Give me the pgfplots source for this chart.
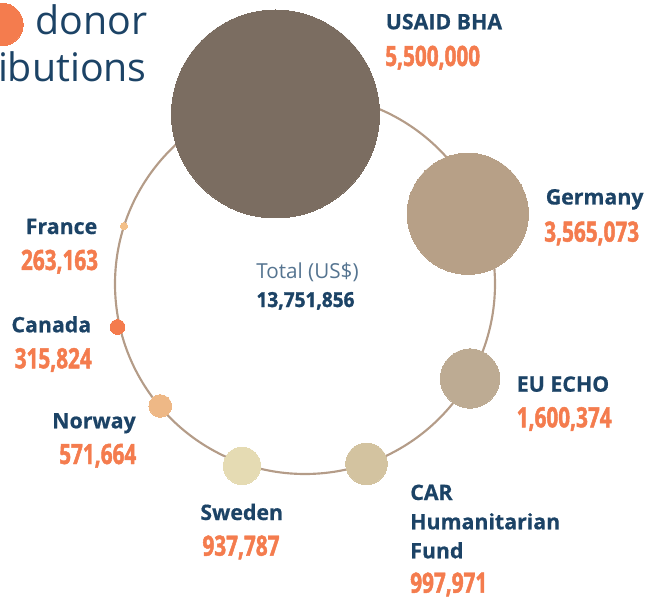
\documentclass[border=0pt]{standalone}
\usepackage{pgfplots}
\pgfplotsset{compat=1.18}
\usepackage{fontspec}
\setmainfont{Open Sans}
\newfontfamily\labfont[BoldFeatures={FakeBold=0.5}]{Open Sans}
\newfontfamily\numfont[FakeStretch=0.74, BoldFeatures={FakeBold=1.6}]{Open Sans}
\newfontfamily\totfont[FakeStretch=0.92, BoldFeatures={FakeBold=1.6}]{Open Sans}
\definecolor{navy}{HTML}{1C4366}
\definecolor{orng}{HTML}{F47C4E}
\definecolor{ring}{HTML}{B49C88}
\definecolor{ctot}{HTML}{557490}
\definecolor{cusaid}{HTML}{7B6D61}
\definecolor{cger}{HTML}{B7A087}
\definecolor{cecho}{HTML}{BDAB93}
\definecolor{ccar}{HTML}{D3C3A0}
\definecolor{cswe}{HTML}{E5DBB3}
\definecolor{cnor}{HTML}{EEB886}
\definecolor{ccan}{HTML}{F47B4D}
\definecolor{cfra}{HTML}{F3C089}
\tikzset{
  lab/.style={inner sep=0pt, text=navy, font=\fontsize{16}{19}\selectfont\labfont\bfseries},
  num/.style={inner sep=0pt, text=orng, font=\fontsize{21}{24}\selectfont\numfont\bfseries},
}
\pgfplotsset{bub/.style={only marks, mark=*, mark size=#1, line width=0pt}}
\begin{document}
\begin{tikzpicture}
\useasboundingbox (0,0) rectangle (487.5pt,449.25pt);
\clip (0,0) rectangle (487.5pt,449.25pt);
\begin{axis}[x=0.75pt, y=0.75pt, xmin=0, xmax=650, ymin=0, ymax=599,
  y dir=reverse, hide axis, clip=false, scale only axis,
  at={(0,0)}, anchor=south west]
% ring
\draw[ring, line width=1.6pt] (axis cs:305,284) circle[radius=142.5pt];
% title dot
\addplot[bub=15.9pt, color=orng] coordinates {(2,24.5)};
% bubbles (x, y in px; mark size = radius)
\addplot[bub=78pt, color=cusaid] coordinates {(275.5,114)};
\addplot[bub=45.4pt, color=cger] coordinates {(467.8,213.8)};
\addplot[bub=22.2pt, color=cecho] coordinates {(470,378.5)};
\addplot[bub=15.6pt, color=ccar] coordinates {(366.5,463.8)};
\addplot[bub=14pt, color=cswe] coordinates {(242,465.8)};
\addplot[bub=8.5pt, color=cnor] coordinates {(160.3,406)};
\addplot[bub=5.6pt, color=ccan] coordinates {(117.5,327)};
\addplot[bub=2.7pt, color=cfra] coordinates {(124,226)};
% title
\node[anchor=base west, inner sep=0pt, text=navy, font=\fontsize{29.5}{34}\selectfont] at (axis cs:35,35) {donor};
\node[anchor=base east, inner sep=0pt, text=navy, font=\fontsize{29.5}{34}\selectfont] at (axis cs:147,81.7) {contributions};
% labels
\node[lab, anchor=base west] at (axis cs:385.5,29.3) {USAID BHA};
\node[num, anchor=base west] at (axis cs:385,66) {5,500,000};
\node[lab, anchor=base west] at (axis cs:545.5,204.5) {Germany};
\node[num, anchor=base west] at (axis cs:544,241.7) {3,565,073};
\node[lab, anchor=base west] at (axis cs:516.5,391.7) {EU ECHO};
\node[num, anchor=base west] at (axis cs:516.5,427.3) {1,600,374};
\node[lab, anchor=base west] at (axis cs:410,500) {CAR};
\node[lab, anchor=base west] at (axis cs:410,529.3) {Humanitarian};
\node[lab, anchor=base west] at (axis cs:410,558.3) {Fund};
\node[num, anchor=base west] at (axis cs:410,592.7) {997,971};
\node[lab, anchor=base] at (axis cs:241.7,520) {Sweden};
\node[num, anchor=base] at (axis cs:241,555.7) {937,787};
\node[lab, anchor=base east] at (axis cs:136,428.3) {Norway};
\node[num, anchor=base east] at (axis cs:136.5,464) {571,664};
\node[lab, anchor=base east] at (axis cs:91.5,332.3) {Canada};
\node[num, anchor=base east] at (axis cs:92,368.3) {315,824};
\node[lab, anchor=base east] at (axis cs:97.5,234) {France};
\node[num, anchor=base east] at (axis cs:98.3,270) {263,163};
% total
\node[anchor=base, inner sep=0pt, text=ctot, font=\fontsize{15.5}{18}\selectfont] at (axis cs:307.5,278) {Total (US\$)};
\node[anchor=base, inner sep=0pt, text=navy, font=\fontsize{15.5}{18}\selectfont\totfont\bfseries] at (axis cs:305.5,307) {13,751,856};
\end{axis}
\end{tikzpicture}
\end{document}
